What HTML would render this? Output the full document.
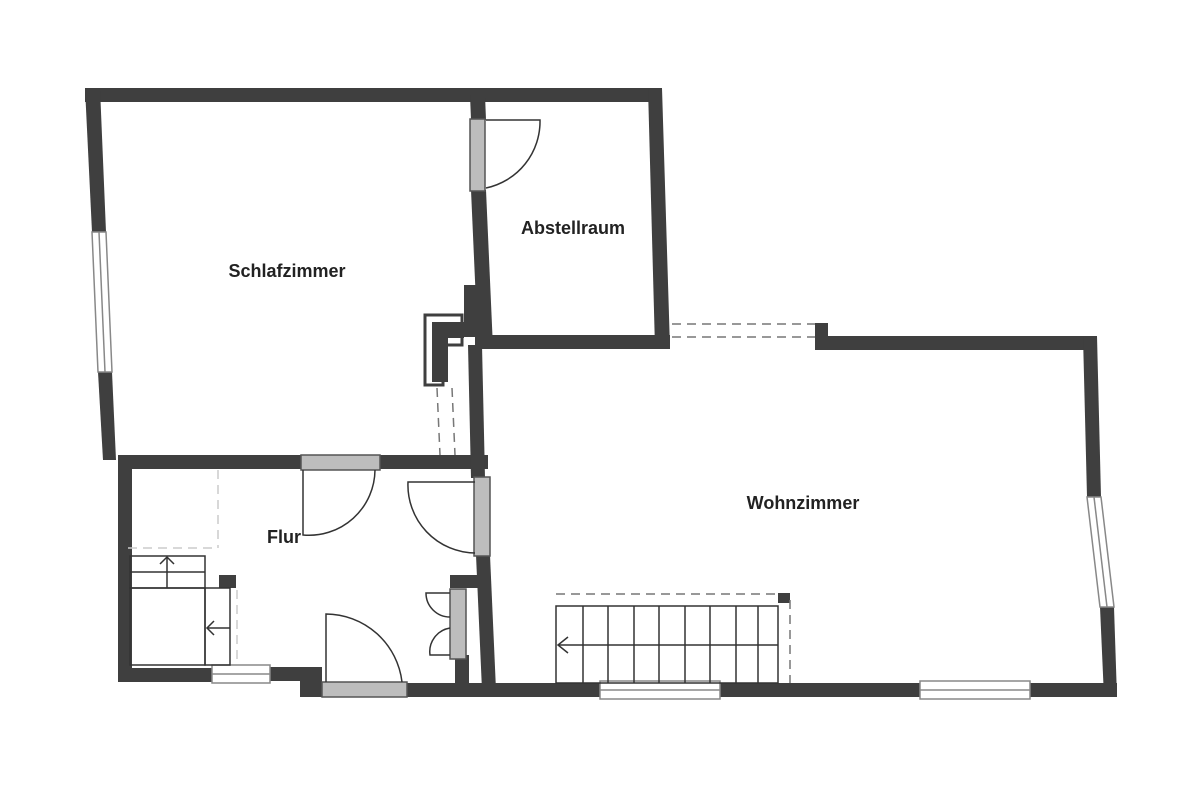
<!DOCTYPE html>
<html><head><meta charset="utf-8"><style>html,body{margin:0;padding:0;background:#fff}svg{display:block}</style></head>
<body>
<svg width="1200" height="785" viewBox="0 0 1200 785" xmlns="http://www.w3.org/2000/svg">
<g fill="#3f3f3f" stroke="none">
<polygon points="85,88 662,88 662,102 85,102"/>
<polygon points="85,88 100,88 106,232 92,232"/>
<polygon points="98,372 112,372 116,460 103,460"/>
<polygon points="118,455 132,455 132,682 118,682"/>
<rect x="118" y="455" width="370" height="14"/>
<polygon points="470,95 485,95 486,120 471,120"/>
<polygon points="471,190 486,190 493,348 478,348"/>
<rect x="464" y="285" width="16" height="52"/>
<polygon points="648,88 662,88 670,348 655,348"/>
<rect x="475" y="335" width="195" height="14"/>
<rect x="815" y="323" width="13" height="27"/>
<rect x="815" y="336" width="282" height="14"/>
<polygon points="1083,336 1097,336 1101,497 1087,497"/>
<polygon points="1100,607 1114,607 1117,697 1104,697"/>
<polygon points="425,315 462,315 462,345 443,345 443,385 425,385" fill="#fff" stroke="#3f3f3f" stroke-width="3"/>
<polygon points="432,322 464,322 464,338 448,338 448,382 432,382"/>
<polygon points="468,345 482,345 485,478 471,478"/>
<polygon points="476,555 490,555 496,690 482,690"/>
<rect x="450" y="575" width="30" height="13"/>
<rect x="455" y="655" width="14" height="30"/>
<rect x="118" y="668" width="94" height="14"/>
<rect x="270" y="667" width="35" height="14"/>
<rect x="300" y="667" width="22" height="30"/>
<rect x="407" y="683" width="193" height="14"/>
<rect x="720" y="683" width="200" height="14"/>
<rect x="1030" y="683" width="87" height="14"/>
<rect x="219" y="575" width="17" height="13"/>
<rect x="778" y="593" width="12" height="10"/>
</g>
<g fill="#bdbdbd" stroke="#555" stroke-width="1.5">
<rect x="470" y="119" width="15" height="72"/>
<rect x="301" y="455" width="79" height="15"/>
<rect x="474" y="477" width="16" height="79"/>
<rect x="450" y="589" width="16" height="70"/>
<rect x="322" y="682" width="85" height="15"/>
</g>
<g fill="none" stroke="#333" stroke-width="1.5">
<path d="M486,120 L540,120 A68,68 0 0 1 486,188"/>
<path d="M303,470 L303,535 A66,66 0 0 0 375,470"/>
<path d="M475,482 L408,482 A68,68 0 0 0 475,553"/>
<path d="M326,682 L326,614 A77,77 0 0 1 402,682"/>
<path d="M450,593 L426,593 A24,24 0 0 0 450,617"/>
<path d="M450,655 L430,655 A24,24 0 0 1 450,628"/>
</g>
<g fill="#fff" stroke="#888" stroke-width="1.5">
<polygon points="92,232 106,232 112,372 98,372"/>
<line x1="99" y1="232" x2="105" y2="372"/>
<polygon points="1087,497 1101,497 1114,607 1100,607" />
<line x1="1094" y1="497" x2="1107" y2="607"/>
<rect x="212" y="665" width="58" height="18"/>
<line x1="212" y1="674" x2="270" y2="674"/>
<rect x="600" y="681" width="120" height="18"/>
<line x1="600" y1="690" x2="720" y2="690"/>
<rect x="920" y="681" width="110" height="18"/>
<line x1="920" y1="690" x2="1030" y2="690"/>
</g>
<g fill="none" stroke="#777" stroke-width="1.5" stroke-dasharray="9,6">
<line x1="672" y1="324" x2="815" y2="324"/>
<line x1="672" y1="337" x2="815" y2="337"/>
<line x1="437" y1="388" x2="440" y2="455"/>
<line x1="452" y1="388" x2="455" y2="455"/>
<line x1="556" y1="594" x2="778" y2="594"/>
<line x1="790" y1="600" x2="790" y2="683"/>
</g>
<g fill="none" stroke="#ccc" stroke-width="1.5" stroke-dasharray="9,6">
<line x1="218" y1="470" x2="218" y2="548"/>
<line x1="128" y1="548" x2="218" y2="548"/>
<line x1="237" y1="590" x2="237" y2="665"/>
</g>
<g fill="none" stroke="#333" stroke-width="1.5">
<rect x="556" y="606" width="222" height="77"/>
<line x1="583" y1="606" x2="583" y2="683"/>
<line x1="608" y1="606" x2="608" y2="683"/>
<line x1="634" y1="606" x2="634" y2="683"/>
<line x1="659" y1="606" x2="659" y2="683"/>
<line x1="685" y1="606" x2="685" y2="683"/>
<line x1="710" y1="606" x2="710" y2="683"/>
<line x1="736" y1="606" x2="736" y2="683"/>
<line x1="758" y1="606" x2="758" y2="683"/>
<line x1="558" y1="645" x2="778" y2="645"/>
<polyline points="568,637 558,645 568,653"/>
<rect x="130" y="556" width="75" height="32"/>
<line x1="130" y1="572" x2="205" y2="572"/>
<rect x="130" y="588" width="75" height="77"/>
<rect x="205" y="588" width="25" height="77"/>
<line x1="167" y1="588" x2="167" y2="557"/>
<polyline points="160,564 167,557 174,564"/>
<line x1="230" y1="628" x2="207" y2="628"/>
<polyline points="214,621 207,628 214,635"/>
</g>
<g font-family="Liberation Sans, sans-serif" font-size="18" font-weight="bold" fill="#222" text-anchor="middle">
<text x="287" y="277">Schlafzimmer</text>
<text x="573" y="234">Abstellraum</text>
<text x="803" y="509">Wohnzimmer</text>
<text x="284" y="543">Flur</text>
</g>
</svg>
</body></html>
